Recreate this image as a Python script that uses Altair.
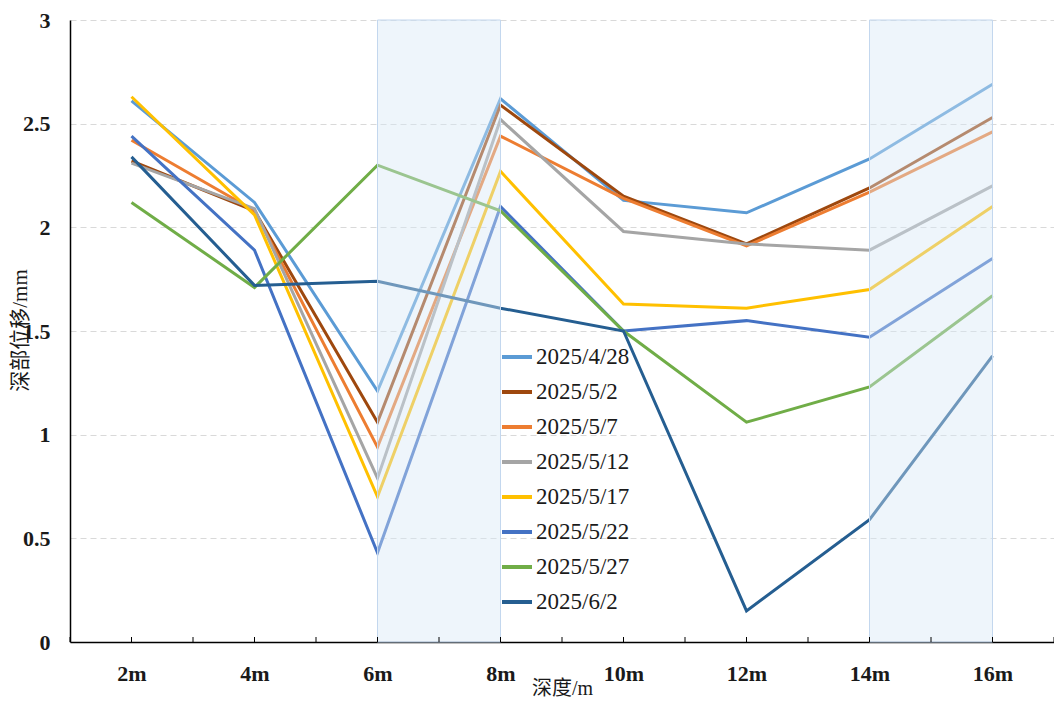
import altair as alt
import pandas as pd

depths = [2, 4, 6, 8, 10, 12, 14, 16]
dates = ["2025/4/28", "2025/5/2", "2025/5/7", "2025/5/12",
         "2025/5/17", "2025/5/22", "2025/5/27", "2025/6/2"]
colors = ["#5B9BD5", "#9E480E", "#ED7D31", "#A5A5A5",
          "#FFC000", "#4472C4", "#70AD47", "#255E91"]

s_0428 = [2.61, 2.12, 1.21, 2.62, 2.13, 2.07, 2.33, 2.69]
s_0502 = [2.32, 2.08, 1.06, 2.59, 2.15, 1.92, 2.19, 2.53]
s_0507 = [2.42, 2.08, 0.94, 2.44, 2.14, 1.91, 2.17, 2.46]
s_0512 = [2.31, 2.09, 0.79, 2.52, 1.98, 1.92, 1.89, 2.20]
s_0517 = [2.63, 2.06, 0.70, 2.27, 1.63, 1.61, 1.70, 2.10]
s_0522 = [2.44, 1.89, 0.43, 2.10, 1.50, 1.55, 1.47, 1.85]
s_0527 = [2.12, 1.71, 2.30, 2.08, 1.50, 1.06, 1.23, 1.67]
s_0602 = [2.34, 1.72, 1.74, 1.61, 1.50, 0.15, 0.59, 1.38]
series = [s_0428, s_0502, s_0507, s_0512, s_0517, s_0522, s_0527, s_0602]

band_start = [6, 14]
band_end = [8, 16]
tick_positions = list(range(1, 18))
y_ticks = [0, 0.5, 1, 1.5, 2, 2.5, 3]

rows = []
for i, (d, vals) in enumerate(zip(dates, series)):
    for dep, v in zip(depths, vals):
        rows.append({"date": d, "idx": i, "depth": dep, "value": v})
df = pd.DataFrame(rows)
bands_df = pd.DataFrame({"start": band_start, "end": band_end})
ticks_df = pd.DataFrame({"t": tick_positions})

W, H = 984, 622
SERIF = "Liberation Serif, Noto Sans CJK SC"

xscale = alt.Scale(domain=[1, 17], nice=False, zero=False)
xaxis = alt.Axis(
    values=depths, labelExpr="datum.value + 'm'", title="深度/m",
    ticks=False, grid=False, domainColor="black", domainWidth=1.5,
    labelFont="Liberation Serif", labelFontWeight="bold", labelFontSize=22,
    labelColor="#1a1a1a", labelPadding=21,
    titleFont=SERIF, titleFontWeight="normal", titleFontSize=20,
    titleColor="#1a1a1a", titleY=46, titleBaseline="middle",
)
yaxis = alt.Axis(
    values=y_ticks, format="~g", title="深部位移/mm",
    ticks=False, grid=True, gridColor="#d9d9d9", gridDash=[6, 4], gridWidth=1,
    domainColor="black", domainWidth=1.5,
    labelFont="Liberation Serif", labelFontWeight="bold", labelFontSize=22,
    labelColor="#1a1a1a", labelPadding=20,
    titleFont=SERIF, titleFontWeight="normal", titleFontSize=21,
    titleColor="#1a1a1a", titleX=-50, titleY=310, titleBaseline="middle",
    titleAngle=270,
)

lines = alt.Chart(df).mark_line(strokeWidth=3).encode(
    x=alt.X("depth:Q", scale=xscale, axis=xaxis),
    y=alt.Y("value:Q", scale=alt.Scale(domain=[0, 3], nice=False), axis=yaxis),
    color=alt.Color(
        "date:N", sort=dates,
        scale=alt.Scale(domain=dates, range=colors),
        legend=alt.Legend(
            title=None, orient="none", legendX=430, legendY=320,
            symbolType="stroke", symbolStrokeWidth=4, symbolSize=900,
            labelFont="Liberation Serif", labelFontSize=23,
            labelColor="#1a1a1a", rowPadding=6, labelOffset=2,
        ),
    ),
    order=alt.Order("depth:Q"),
)

bands = alt.Chart(bands_df).mark_rect(
    fill="#d6e6f6", fillOpacity=0.42, stroke="#c3d7ee", strokeWidth=1
).encode(
    x=alt.X("start:Q", scale=xscale, axis=xaxis),
    x2="end:Q",
    y=alt.value(0),
    y2=alt.value(H),
)

ticks = alt.Chart(ticks_df).mark_rule(color="black", strokeWidth=1).encode(
    x=alt.X("t:Q", scale=xscale, axis=xaxis),
    y=alt.value(H),
    y2=alt.value(H - 5),
)

chart = alt.layer(lines, bands, ticks).properties(
    width=W, height=H,
    autosize=alt.AutoSizeParams(type="none"),
    padding={"left": 62, "top": 12, "right": 0, "bottom": 56},
    background="white",
).configure_view(stroke=None)

chart.save("out.html", embed_options={"renderer": "svg", "actions": False})
